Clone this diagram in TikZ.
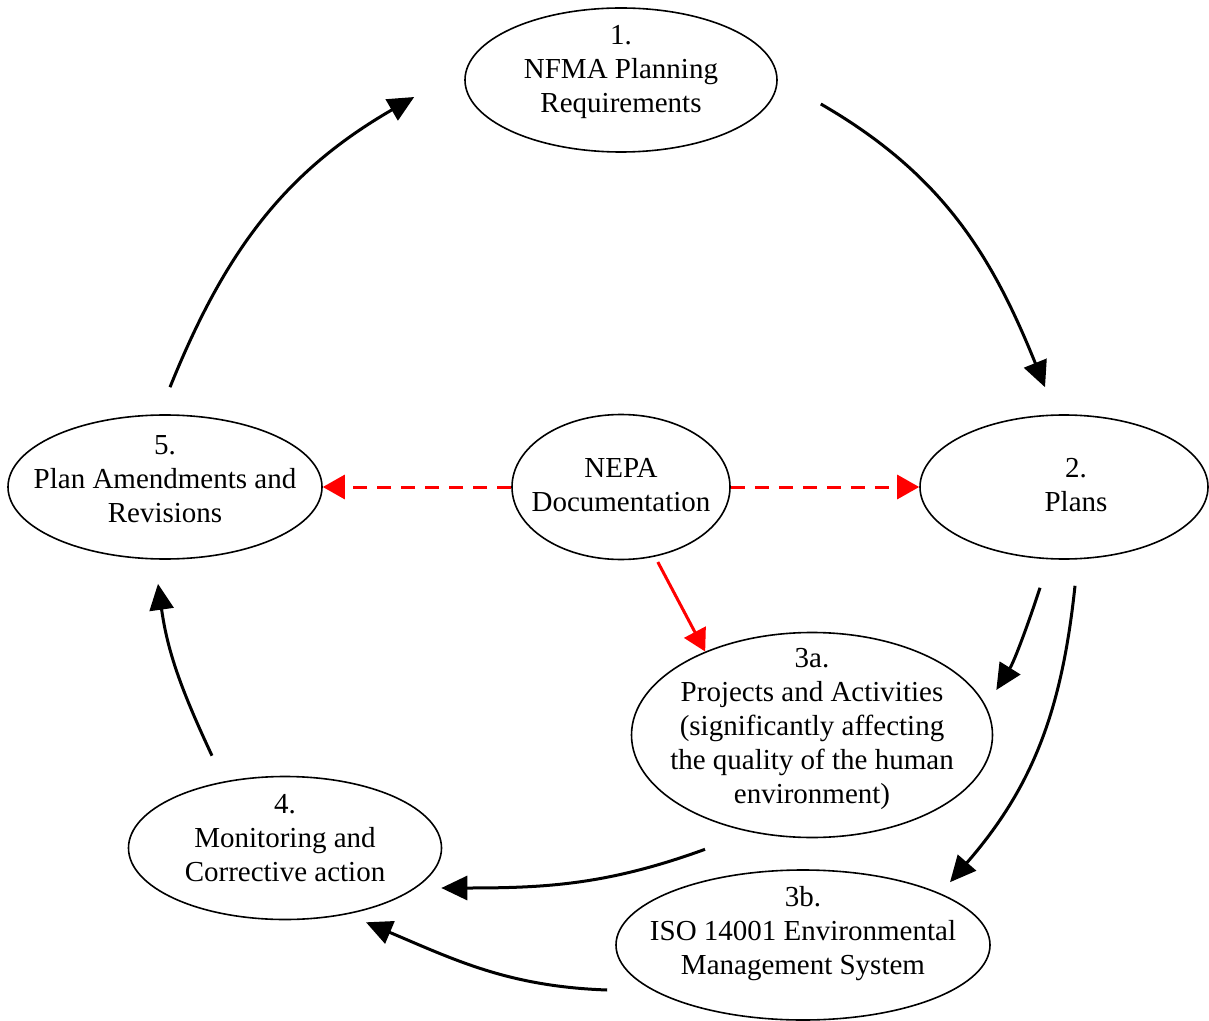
\documentclass[tikz,border=0pt]{standalone}
\usepackage{fontspec}
\setmainfont{Liberation Serif}
\usetikzlibrary{shapes.geometric,arrows.meta}

\begin{document}
\begin{tikzpicture}[x=0.5pt,y=-0.5pt,
    stage/.style={draw,ellipse,line width=0.8pt,inner sep=0pt},
    txt/.style={align=center,inner sep=0pt,font=\fontsize{14.5}{17}\selectfont},
    flow/.style={line width=1.5pt,-{Triangle[length=13pt,width=12pt]}},
    nepaflow/.style={red,line width=1.5pt,-{Triangle[length=11pt,width=12pt]}}]
    \useasboundingbox(0,0)rectangle(1209,1021);

    % the stages
    \node[stage,minimum width=156pt,minimum height=72pt](nfma)at(621,80){};
    \node[stage,minimum width=144pt,minimum height=72pt](plans)at(1064,487){};
    \node[stage,minimum width=157pt,minimum height=72pt](amend)at(165,487){};
    \node[stage,minimum width=109pt,minimum height=72.5pt](nepa)at(621,487){};
    \node[stage,minimum width=180.5pt,minimum height=102.5pt](proj)at(812,735){};
    \node[stage,minimum width=156.5pt,minimum height=71.5pt](mon)at(285,848){};
    \node[stage,minimum width=187pt,minimum height=75pt](iso)at(803,945){};

    \node[txt](nfmatext)at(621,72){1.\\NFMA Planning\\Requirements};
    \node[txt](planstext)at(1076,485){2.\\Plans};
    \node[txt](amendtext)at(165,479){5.\\Plan Amendments and\\Revisions};
    \node[txt](nepatext)at(621,485){NEPA\\Documentation};
    \node[txt](projtext)at(812,729){3a.\\Projects and Activities\\(significantly affecting\\the quality of the human\\environment)};
    \node[txt](montext)at(285,838){4.\\Monitoring and\\Corrective action};
    \node[txt](isotext)at(803,934){3b.\\ISO 14001 Environmental\\Management System};

    % the cycle
    \draw[flow]([xshift=2.5pt,yshift=13.5pt]amend.north)to[out=68,in=210]([xshift=-25pt,yshift=-8.5pt]nfma.west);
    \draw[flow]([xshift=21.5pt,yshift=-12pt]nfma.east)to[out=-30,in=112]([xshift=-9.5pt,yshift=13.5pt]plans.north);
    \draw[flow]([xshift=-12pt,yshift=-14pt]plans.south)to[out=-108,in=58,looseness=0.8]([xshift=1.5pt,yshift=22.5pt]proj.east);
    \draw[flow]([xshift=5.5pt,yshift=-13pt]plans.south)to[out=-96,in=49]([xshift=73.5pt,yshift=-6.5pt]iso.north);
    \draw[flow]([xshift=-53.5pt,yshift=-5.5pt]proj.south)to[out=200,in=0]([xshift=-0.5pt,yshift=-20pt]mon.east);
    \draw[flow]([xshift=-4pt,yshift=-22.5pt]iso.west)to[out=178,in=-23]([xshift=40.5pt,yshift=-1pt]mon.south);
    \draw[flow]([xshift=-36.5pt,yshift=10pt]mon.north)to[out=115,in=-82]([xshift=-3.5pt,yshift=-12pt]amend.south);

    % NEPA links
    \draw[nepaflow,dash pattern=on 7pt off 5pt](nepa.west)--(amend.east);
    \draw[nepaflow,dash pattern=on 7pt off 5pt](nepa.east)--(plans.west);
    \draw[nepaflow,shorten <=3pt](nepa.-64)--(proj.142);
\end{tikzpicture}
\end{document}
